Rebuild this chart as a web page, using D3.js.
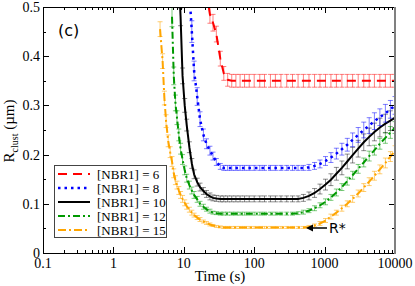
<!DOCTYPE html>
<html><head><meta charset="utf-8">
<script src="https://cdn.jsdelivr.net/npm/d3@7"></script>
<style>body{margin:0;background:#fff}</style>
</head><body>
<svg id="c" width="415" height="286"></svg>
<script>
const times=[4.6,5.0,5.3,5.6,6.0,6.4,6.8,7.2,7.6,8.0,
 8.5,9.0,9.6,10.3,11,12,13,14,15.5,17,
 19,21,23.5,26,29,33,37,42,48,55,
 63,73,85,100,120,140,170,200,240,290,
 350,420,500,600,720,860,1030,1230,1470,1760,
 2100,2500,3000,3600,4300,5100,6100,7300,8600,10000];

const nbr6=[null,null,null,null,null,null,null,null,null,null,
 null,null,null,null,null,null,null,null,null,null,
 null,0.53,0.485,0.468,0.445,0.395,0.365,0.352,0.350,0.350,
 0.350,0.350,0.350,0.350,0.350,0.350,0.350,0.350,0.350,0.350,
 0.350,0.350,0.350,0.350,0.350,0.350,0.350,0.350,0.350,0.350,
 0.350,0.350,0.350,0.350,0.350,0.350,0.350,0.350,0.350,0.350];
const nbr8=[null,null,null,null,null,null,null,null,null,null,
 null,null,null,null,null,0.53,0.45,0.37,0.318,0.272,
 0.240,0.222,0.208,0.197,0.185,0.176,0.173,0.173,0.173,0.173,
 0.173,0.173,0.173,0.173,0.173,0.173,0.173,0.173,0.173,0.173,
 0.173,0.173,0.173,0.174,0.177,0.181,0.187,0.194,0.202,0.211,
 0.220,0.230,0.240,0.250,0.259,0.268,0.276,0.284,0.292,0.300];
const nbr10=[null,null,null,null,null,null,null,null,null,null,
 0.56,0.48,0.36,0.30,0.26,0.215,0.182,0.160,0.144,0.134,
 0.126,0.120,0.115,0.112,0.111,0.110,0.110,0.110,0.110,0.110,
 0.110,0.110,0.110,0.110,0.110,0.110,0.110,0.110,0.110,0.110,
 0.110,0.110,0.112,0.116,0.122,0.130,0.139,0.149,0.161,0.173,
 0.186,0.199,0.212,0.225,0.236,0.246,0.255,0.263,0.269,0.275];
const nbr12=[null,null,null,null,null,null,0.48,0.36,0.305,0.275,
 0.240,0.212,0.190,0.168,0.152,0.138,0.127,0.118,0.109,0.100,
 0.094,0.089,0.085,0.082,0.081,0.080,0.080,0.080,0.080,0.080,
 0.080,0.080,0.080,0.080,0.080,0.080,0.080,0.080,0.080,0.080,
 0.080,0.081,0.083,0.086,0.091,0.097,0.104,0.113,0.123,0.134,
 0.146,0.158,0.171,0.184,0.197,0.209,0.222,0.234,0.245,0.255];
const nbr15=[0.455,0.39,0.315,0.268,0.228,0.205,0.186,0.162,0.148,0.138,
 0.127,0.118,0.110,0.102,0.095,0.088,0.082,0.077,0.072,0.068,
 0.064,0.061,0.058,0.056,0.054,0.053,0.052,0.052,0.052,0.052,
 0.052,0.052,0.052,0.052,0.052,0.052,0.052,0.052,0.052,0.052,
 0.052,0.052,0.052,0.053,0.056,0.060,0.066,0.074,0.082,0.091,
 0.100,0.110,0.121,0.133,0.145,0.157,0.170,0.183,0.196,0.208];

const err6=[null,null,null,null,null,null,null,null,null,null,
 null,null,null,null,null,null,null,null,null,null,
 null,0.02,0.018,0.017,0.016,0.015,0.014,0.013,0.013,0.013,
 0.013,0.013,0.013,0.013,0.013,0.013,0.013,0.013,0.013,0.013,
 0.013,0.013,0.013,0.013,0.013,0.013,0.013,0.013,0.013,0.013,
 0.013,0.013,0.013,0.013,0.013,0.013,0.013,0.013,0.013,0.013];
const err8=[null,null,null,null,null,null,null,null,null,null,
 null,null,null,null,null,0.025,0.022,0.020,0.018,0.015,
 0.012,0.010,0.009,0.008,0.007,0.006,0.005,0.005,0.005,0.005,
 0.005,0.005,0.005,0.005,0.005,0.005,0.005,0.005,0.005,0.005,
 0.005,0.005,0.005,0.006,0.007,0.008,0.009,0.010,0.011,0.012,
 0.013,0.014,0.015,0.016,0.016,0.017,0.017,0.018,0.018,0.018];
const err10=[null,null,null,null,null,null,null,null,null,null,
 0.020,0.018,0.016,0.014,0.012,0.011,0.010,0.009,0.008,0.008,
 0.007,0.007,0.007,0.006,0.006,0.006,0.006,0.006,0.006,0.006,
 0.006,0.006,0.006,0.006,0.006,0.006,0.006,0.006,0.006,0.006,
 0.006,0.006,0.007,0.008,0.009,0.010,0.011,0.012,0.013,0.014,
 0.015,0.016,0.017,0.017,0.018,0.018,0.019,0.019,0.020,0.020];
const err12=[null,null,null,null,null,null,0.020,0.018,0.016,0.014,
 0.012,0.011,0.010,0.009,0.008,0.008,0.007,0.007,0.006,0.005,
 0.005,0.004,0.004,0.003,0.003,0.003,0.003,0.003,0.003,0.003,
 0.003,0.003,0.003,0.003,0.003,0.003,0.003,0.003,0.003,0.003,
 0.003,0.003,0.004,0.004,0.005,0.005,0.006,0.006,0.007,0.007,
 0.008,0.008,0.009,0.009,0.010,0.010,0.011,0.011,0.012,0.012];
const err15=[0.015,0.015,0.014,0.013,0.012,0.011,0.010,0.009,0.009,0.008,
 0.008,0.007,0.007,0.006,0.006,0.005,0.005,0.004,0.004,0.004,
 0.003,0.003,0.003,0.002,0.002,0.002,0.002,0.002,0.002,0.002,
 0.002,0.002,0.002,0.002,0.002,0.002,0.002,0.002,0.002,0.002,
 0.002,0.002,0.002,0.003,0.003,0.004,0.004,0.005,0.005,0.006,
 0.006,0.007,0.007,0.008,0.008,0.009,0.009,0.010,0.010,0.010];

const seriesLabels=["[NBR1] = 6","[NBR1] = 8","[NBR1] = 10","[NBR1] = 12","[NBR1] = 15"];
const xTicks=[0.1,1,10,100,1000,10000];
const xTickLabels=["0.1","1","10","100","1000","10000"];
const yTicks=[0,0.1,0.2,0.3,0.4,0.5];
const yTickLabels=["0","0.1","0.2","0.3","0.4","0.5"];
const yMinor=[0.05,0.15,0.25,0.35,0.45];

const styles=[
 {c:"#ff0000",e:"rgba(255,0,0,0.5)",d:"9,6",w:2},
 {c:"#0000ff",e:"rgba(0,0,255,0.5)",d:"2.5,4",w:2.5},
 {c:"#000000",e:"rgba(0,0,0,0.45)",d:null,w:2},
 {c:"#009900",e:"rgba(0,153,0,0.5)",d:"7,3,2,3",w:2},
 {c:"#ffa500",e:"rgba(255,165,0,0.55)",d:"8,3,2,3",w:2}
];
const values=[nbr6,nbr8,nbr10,nbr12,nbr15];
const errs=[err6,err8,err10,err12,err15];

const svg=d3.select("#c");
const L=43,R=395,T=7,B=253;
const x=d3.scaleLog().domain([0.1,10000]).range([L,R]);
const y=d3.scaleLinear().domain([0,0.5]).range([B,T]);
const serif="'Liberation Serif','Times New Roman',serif";
const sans="'DejaVu Sans',sans-serif";

svg.append("defs").append("clipPath").attr("id","pc")
 .append("rect").attr("x",L).attr("y",T).attr("width",R-L).attr("height",B-T);

const plot=svg.append("g").attr("clip-path","url(#pc)");
const order=[4,3,2,1,0];
order.forEach(k=>{
  const st=styles[k];
  const pts=times.map((t,i)=>({t,v:values[k][i],e:errs[k][i]})).filter(p=>p.v!=null);
  const g=plot.append("g");
  pts.forEach(p=>{
    const y1=y(p.v-p.e), y2=y(p.v+p.e), xx=x(p.t);
    g.append("line").attr("x1",xx).attr("x2",xx).attr("y1",y1).attr("y2",y2)
     .attr("stroke",st.e).attr("stroke-width",1);
    [y1,y2].forEach(yy=>g.append("line").attr("x1",xx-2.5).attr("x2",xx+2.5)
     .attr("y1",yy).attr("y2",yy).attr("stroke",st.e).attr("stroke-width",1));
  });
  const line=d3.line().x(p=>x(p.t)).y(p=>y(p.v));
  g.append("path").attr("d",line(pts)).attr("fill","none").attr("stroke",st.c)
   .attr("stroke-width",st.w).attr("stroke-dasharray",st.d);
});

// axes
const xMinor=x.ticks().filter(t=>!xTicks.some(m=>Math.abs(m-t)/m<1e-6));
const ax=svg.append("g").attr("stroke","#000").attr("stroke-width",1);
xTicks.forEach(t=>{
  const xx=Math.round(x(t))+0.5;
  ax.append("line").attr("x1",xx).attr("x2",xx).attr("y1",B).attr("y2",B-6);
  ax.append("line").attr("x1",xx).attr("x2",xx).attr("y1",T).attr("y2",T+6);
});
xMinor.forEach(t=>{
  const xx=Math.round(x(t))+0.5;
  ax.append("line").attr("x1",xx).attr("x2",xx).attr("y1",B).attr("y2",B-3);
  ax.append("line").attr("x1",xx).attr("x2",xx).attr("y1",T).attr("y2",T+3);
});
yTicks.forEach(v=>{
  const yy=Math.round(y(v))+0.5;
  ax.append("line").attr("x1",L).attr("x2",L+6).attr("y1",yy).attr("y2",yy);
  ax.append("line").attr("x1",R).attr("x2",R-6).attr("y1",yy).attr("y2",yy);
});
yMinor.forEach(v=>{
  const yy=Math.round(y(v))+0.5;
  ax.append("line").attr("x1",L).attr("x2",L+3).attr("y1",yy).attr("y2",yy);
  ax.append("line").attr("x1",R).attr("x2",R-3).attr("y1",yy).attr("y2",yy);
});
// frame
svg.append("line").attr("x1",L+0.5).attr("x2",L+0.5).attr("y1",T).attr("y2",B+0.5).attr("stroke","#000");
svg.append("line").attr("x1",L).attr("x2",R).attr("y1",B+0.5).attr("y2",B+0.5).attr("stroke","#000");
svg.append("line").attr("x1",L).attr("x2",R).attr("y1",T+0.5).attr("y2",T+0.5).attr("stroke","#000");
svg.append("line").attr("x1",R).attr("x2",R).attr("y1",T).attr("y2",B+1).attr("stroke","#808080").attr("stroke-width",2);

// tick labels
xTicks.forEach((t,i)=>{
  svg.append("text").attr("x",x(t)).attr("y",268).attr("text-anchor","middle")
   .attr("font-family",serif).attr("font-size",14).text(xTickLabels[i]);
});
yTicks.forEach((v,i)=>{
  svg.append("text").attr("x",40).attr("y",y(v)).attr("dy","0.35em").attr("text-anchor","end")
   .attr("font-family",serif).attr("font-size",14).text(yTickLabels[i]);
});

// axis titles
svg.append("text").attr("x",220).attr("y",281).attr("text-anchor","middle")
 .attr("font-family",serif).attr("font-size",15).text("Time (s)");
const yt=svg.append("text").attr("transform","translate(14,131) rotate(-90)")
 .attr("text-anchor","middle").attr("font-family",serif).attr("font-size",15);
yt.append("tspan").text("R");
yt.append("tspan").attr("font-size",10).attr("dy",4).text("clust");
yt.append("tspan").attr("dy",-4).text(" (\u00b5m)");

// panel label
svg.append("text").attr("x",58).attr("y",36).attr("font-family",sans).attr("font-size",16).text("(c)");

// legend
const lg=svg.append("g");
lg.append("rect").attr("x",54.5).attr("y",165.5).attr("width",112).attr("height",72)
 .attr("fill","#fff").attr("stroke","#444").attr("stroke-width",1);
seriesLabels.forEach((s,i)=>{
  const yy=174+i*14, st=styles[i];
  lg.append("line").attr("x1",58).attr("x2",90).attr("y1",yy).attr("y2",yy)
   .attr("stroke",st.c).attr("stroke-width",st.w).attr("stroke-dasharray",st.d);
  lg.append("text").attr("x",97).attr("y",yy).attr("dy","0.35em")
   .attr("font-family",serif).attr("font-size",13).text(s);
});

// R* annotation
const ay=228;
svg.append("line").attr("x1",327).attr("x2",311).attr("y1",ay).attr("y2",ay).attr("stroke","#000").attr("stroke-width",1.5);
svg.append("path").attr("d",`M306,${ay} L313,${ay-3.5} L313,${ay+3.5} Z`).attr("fill","#000");
svg.append("text").attr("x",329).attr("y",ay).attr("dy","0.36em").attr("font-family",sans).attr("font-size",14).text("R*");
</script>
</body></html>
